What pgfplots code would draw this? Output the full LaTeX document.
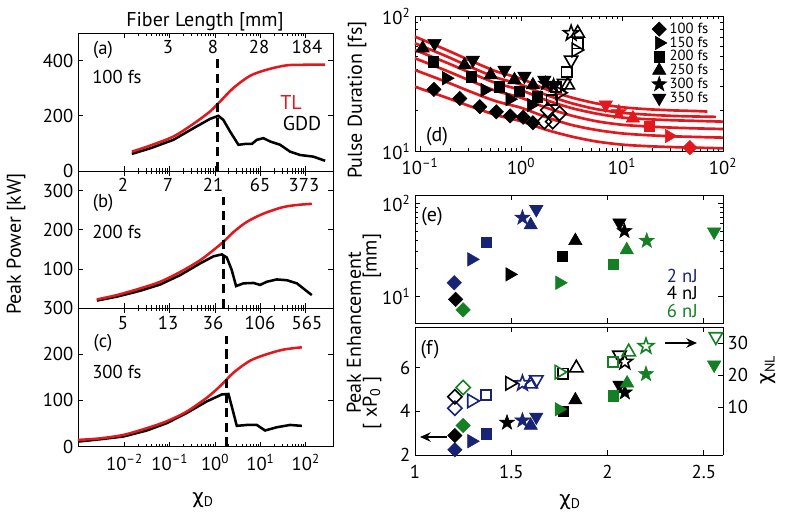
\documentclass[border=0pt]{standalone}
\usepackage{fontspec}
\setmainfont{PT Sans}
\newfontfamily\grk{DejaVu Sans}
\usepackage{pgfplots}
\pgfplotsset{compat=1.18}
\usetikzlibrary{arrows.meta}
\definecolor{mred}{RGB}{225,25,30}
\definecolor{navy}{RGB}{25,35,115}
\definecolor{mgreen}{RGB}{20,128,35}
\newcommand{\starpath}{%
  \pgfpathmoveto{\pgfpointpolar{90}{\pgfplotmarksize}}%
  \pgfpathlineto{\pgfpointpolar{126}{0.4\pgfplotmarksize}}%
  \pgfpathlineto{\pgfpointpolar{162}{\pgfplotmarksize}}%
  \pgfpathlineto{\pgfpointpolar{198}{0.4\pgfplotmarksize}}%
  \pgfpathlineto{\pgfpointpolar{234}{\pgfplotmarksize}}%
  \pgfpathlineto{\pgfpointpolar{270}{0.4\pgfplotmarksize}}%
  \pgfpathlineto{\pgfpointpolar{306}{\pgfplotmarksize}}%
  \pgfpathlineto{\pgfpointpolar{342}{0.4\pgfplotmarksize}}%
  \pgfpathlineto{\pgfpointpolar{18}{\pgfplotmarksize}}%
  \pgfpathlineto{\pgfpointpolar{54}{0.4\pgfplotmarksize}}%
  \pgfpathclose}
\pgfdeclareplotmark{fstar}{\starpath\pgfusepathqfillstroke}
\pgfdeclareplotmark{ostar}{\starpath\pgfusepathqstroke}
\newcommand{\tf}{\fontsize{14}{16}\selectfont}
\newcommand{\lf}{\fontsize{15}{17}\selectfont}
\newcommand{\chiD}{{\grk χ}\textsubscript{D}}
\newcommand{\sps}[1]{10\textsuperscript{#1}}

\pgfplotsset{
  every axis/.append style={scale only axis, anchor=south west, tick align=inside,
    major tick length=3.5pt, minor tick length=2pt,
    axis line style={line width=0.6pt},
    every tick/.append style={line width=0.5pt, black},
    /pgf/number format/assume math mode=true,
    tick label style={font=\tf}, clip=false},
  mD/.style={only marks, mark=square*, mark size=3.8pt, mark options={rotate=45}},
  mR/.style={only marks, mark=triangle*, mark size=5.8pt, mark options={rotate=-90}},
  mS/.style={only marks, mark=square*, mark size=3.8pt},
  mU/.style={only marks, mark=triangle*, mark size=5.8pt},
  mP/.style={only marks, mark=fstar, mark size=6pt},
  mV/.style={only marks, mark=triangle*, mark size=5.8pt, mark options={rotate=180}},
  oD/.style={only marks, mark=square, mark size=3.8pt, mark options={rotate=45}, line width=1.2pt},
  oR/.style={only marks, mark=triangle, mark size=5.8pt, mark options={rotate=-90}, line width=1.2pt},
  oS/.style={only marks, mark=square, mark size=3.8pt, line width=1.2pt},
  oU/.style={only marks, mark=triangle, mark size=5.8pt, line width=1.2pt},
  oP/.style={only marks, mark=ostar, mark size=6pt, line width=1.2pt},
  oV/.style={only marks, mark=triangle, mark size=5.8pt, mark options={rotate=180}, line width=1.2pt},
  tlcurve/.style={mred, line width=1.9pt, smooth},
  gddcurve/.style={black, line width=1.9pt},
  dshline/.style={black, line width=2.1pt, dash pattern=on 7pt off 4pt},
}

\begin{document}
\begin{tikzpicture}
\useasboundingbox (0,0) rectangle (588.75pt,-388.5pt);

% ---------------- (a)
\begin{axis}[xmode=log, xmin=0.00094, xmax=400, width=191.25pt, xtick={0.01,0.1,1,10,100},
  at={(58.5pt,-128.25pt)}, height=103.5pt,
  ymin=0, ymax=500, ytick={0,200,400}, xticklabels={}]
\addplot[gddcurve] coordinates {(0.0145,62) (0.0367,82) (0.120,113) (0.332,155) (0.776,189) (1.18,200) (1.52,185) (2.14,143) (3.27,95) (4.59,98) (6.46,98) (8.32,113) (11.6,119) (16.4,107) (27.2,95) (45.3,70) (75.2,58) (148,52) (268,37)};
\addplot[tlcurve] coordinates {(0.0145,70) (0.0367,92) (0.120,125) (0.332,171) (0.776,216) (1.29,252) (2.54,301) (5.93,345) (13.8,367) (38.3,383) (106,385) (268,385)};
\addplot[dshline] coordinates {(1.12,0) (1.12,410)};
\end{axis}

% ---------------- (b)
\begin{axis}[xmode=log, xmin=0.00094, xmax=400, width=191.25pt, xtick={0.01,0.1,1,10,100},
  at={(58.5pt,-231pt)}, height=102.75pt,
  ymin=0, ymax=350, ytick={100,200,300}, xticklabels={}]
\addplot[gddcurve] coordinates {(0.00245,19) (0.00676,29) (0.0221,44) (0.0611,60) (0.169,84) (0.467,114) (0.918,132) (1.41,137) (1.81,129) (2.33,97) (2.90,56) (4.22,63) (7.01,64) (9.84,59) (13.8,67) (23.0,73) (38.3,71) (63.7,63) (136,33)};
\addplot[tlcurve] coordinates {(0.00245,22) (0.00676,33) (0.0221,50) (0.0611,67) (0.169,92) (0.467,122) (0.918,148) (1.52,169) (2.54,194) (5.01,220) (11.6,241) (32.2,258) (75.2,264) (136,266)};
\addplot[dshline] coordinates {(1.52,0) (1.52,283)};
\end{axis}

% ---------------- (c)
\begin{axis}[xmode=log, xmin=0.00094, xmax=400, width=191.25pt, xtick={0.01,0.1,1,10,100},
  at={(58.5pt,-335pt)}, height=104pt,
  ymin=0, ymax=300, ytick={0,100,200,300},
  xticklabels={\sps{–2},\sps{–1},\sps{0},\sps{1},\sps{2}},
  xticklabel style={yshift=-2pt}]
\addplot[gddcurve] coordinates {(0.00094,11) (0.00289,16) (0.00946,22) (0.031,35) (0.0859,51) (0.237,73) (0.656,98) (1.41,113) (1.97,114) (2.33,87) (3.01,45) (5.01,47) (8.32,47) (12.7,35) (23.0,42) (45.3,47) (82,45)};
\addplot[tlcurve] coordinates {(0.00094,14.6) (0.00289,18) (0.00946,25.5) (0.031,40) (0.0859,55) (0.237,76) (0.656,106) (1.29,131) (2.54,160) (5.93,186) (13.8,200) (32.2,210) (82,215)};
\addplot[dshline] coordinates {(1.75,0) (1.75,240)};
\end{axis}

% ---------------- (d)
\begin{axis}[at={(311.25pt,-113.25pt)}, width=231pt, height=101.25pt,
  xmode=log, ymode=log, xmin=0.089, xmax=100, ymin=10, ymax=100,
  xtick={0.1,1,10,100}, xticklabels={\sps{–1},\sps{0},\sps{1},\sps{2}},
  ytick={10,100}, yticklabels={\sps{1},\sps{2}},
  xticklabel style={yshift=-2pt},
  legend style={at={(rel axis cs:0.975,0.99)}, anchor=north east, draw=none, fill=none,
    font=\fontsize{11}{11}\selectfont, row sep=-3pt},
  legend cell align=left]
\addplot[mred, line width=2pt, smooth, forget plot] coordinates {(0.089,29.9) (0.178,25.0) (0.316,21.4) (0.562,18.5) (1,16.6) (1.78,14.35) (3.16,12.8) (5.62,11.75) (10,11.15) (17.8,10.86) (31.6,10.69) (56.2,10.58) (100,10.47)};
\addplot[mred, line width=2pt, smooth, forget plot] coordinates {(0.089,39.8) (0.178,32.7) (0.316,27.5) (0.562,23.4) (1,20.9) (1.78,17.8) (3.16,15.6) (5.62,14.3) (10,13.5) (17.8,13.1) (31.6,12.85) (56.2,12.7) (100,12.56)};
\addplot[mred, line width=2pt, smooth, forget plot] coordinates {(0.089,48.6) (0.178,39.6) (0.316,33.1) (0.562,27.9) (1,24.8) (1.78,20.9) (3.16,18.3) (5.62,16.6) (10,15.65) (17.8,15.2) (31.6,14.9) (56.2,14.7) (100,14.55)};
\addplot[mred, line width=2pt, smooth, forget plot] coordinates {(0.089,56.0) (0.178,45.5) (0.316,37.9) (0.562,31.9) (1,28.2) (1.78,23.8) (3.16,20.8) (5.62,18.9) (10,17.7) (17.8,17.2) (31.6,16.9) (56.2,16.7) (100,16.5)};
\addplot[mred, line width=2pt, smooth, forget plot] coordinates {(0.089,62.8) (0.178,50.7) (0.316,41.9) (0.562,35.1) (1,31.0) (1.78,26.0) (3.16,22.6) (5.62,20.4) (10,19.2) (17.8,18.6) (31.6,18.2) (56.2,18.0) (85,17.9)};
\addplot[mred, line width=2pt, smooth, forget plot] coordinates {(0.089,70.3) (0.178,56.5) (0.316,46.7) (0.562,39.0) (1,34.3) (1.78,28.6) (3.16,24.9) (5.62,22.5) (10,21.1) (17.8,20.4) (31.6,20.0) (56.2,19.75) (70,19.6)};
% red markers on fits
\addplot[mD, mred, forget plot] coordinates {(47,10.6)};
\addplot[mR, mred, forget plot] coordinates {(29.3,12.9)};
\addplot[mS, mred, forget plot] coordinates {(18.5,15.2)};
\addplot[mU, mred, forget plot] coordinates {(12.8,17.5)};
\addplot[mP, mred, forget plot] coordinates {(9.3,19.4)};
\addplot[mV, mred, forget plot] coordinates {(6.9,22)};
% open markers
\addplot[oD, black, forget plot] coordinates {(1.70,16.5) (2.06,16.5) (2.4,19) (1.84,20.1)};
\addplot[oS, black, forget plot] coordinates {(2.01,23.9) (2.22,29.9) (2.83,38.6) (3.64,62.8)};
\addplot[oV, black, forget plot] coordinates {(2.67,31.7) (3.13,47.2)};
\addplot[oR, black, forget plot] coordinates {(3.5,56) (2.4,27)};
\addplot[oU, black, forget plot] coordinates {(2.9,30.8) (3.64,74.5)};
\addplot[oP, black, forget plot] coordinates {(3.13,74.5)};
% filled markers
\addplot[mD, black] coordinates {(0.137,28.6) (0.247,24.5) (0.39,21.3) (0.569,19.5) (0.78,18.2) (1.05,17.8) (1.31,16.2)};
\addlegendentry{100 fs}
\addplot[mR, black] coordinates {(0.182,34.6) (0.437,28.3) (0.773,24.2) (1.26,21.9)};
\addlegendentry{150 fs}
\addplot[mS, black] coordinates {(0.134,45.8) (0.32,35.5) (0.61,29.9) (0.96,27.5) (1.46,25.2)};
\addlegendentry{200 fs}
\addplot[mU, black] coordinates {(0.106,57.7) (0.275,43.3) (0.50,36.6) (0.86,33.6) (1.31,30.8)};
\addlegendentry{250 fs}
\addplot[mP, black] coordinates {(1.75,31.5) (2.1,30.5)};
\addlegendentry{300 fs}
\addplot[mV, black] coordinates {(0.139,62.8) (0.333,47.2) (0.684,39.8) (1.08,35.9) (1.70,33.6)};
\addlegendentry{350 fs}
\end{axis}

% ---------------- (e)
\begin{axis}[at={(311.25pt,-242.25pt)}, width=231pt, height=96pt,
  ymode=log, xmin=1, xmax=2.6, ymin=5.13, ymax=122,
  xtick={1,1.5,2,2.5}, xticklabels={},
  ytick={10,100}, yticklabels={\sps{1},\sps{2}}]
\addplot[mD, navy] coordinates {(1.204,13.9)};
\addplot[mR, navy] coordinates {(1.294,24.8)};
\addplot[mS, navy] coordinates {(1.368,37.8)};
\addplot[mP, navy] coordinates {(1.558,69.5)};
\addplot[mU, navy] coordinates {(1.601,57.9)};
\addplot[mV, navy] coordinates {(1.630,85.5)};
\addplot[mD, black] coordinates {(1.211,9.2)};
\addplot[mR, black] coordinates {(1.492,17.1)};
\addplot[mS, black] coordinates {(1.763,26.9)};
\addplot[mU, black] coordinates {(1.833,39.3)};
\addplot[mV, black] coordinates {(2.062,61.4)};
\addplot[mP, black] coordinates {(2.088,50)};
\addplot[mD, mgreen] coordinates {(1.25,7.1)};
\addplot[mR, mgreen] coordinates {(1.751,13.9)};
\addplot[mS, mgreen] coordinates {(2.031,21.9)};
\addplot[mU, mgreen] coordinates {(2.10,31.3)};
\addplot[mP, mgreen] coordinates {(2.204,39.3)};
\addplot[mV, mgreen] coordinates {(2.554,49.1)};
\end{axis}

% ---------------- (f) left axis: filled markers
\begin{axis}[at={(311.25pt,-341.25pt)}, width=231pt, height=96pt,
  xmin=1, xmax=2.6, ymin=2, ymax=7.85, axis y line*=left,
  xtick={1,1.5,2,2.5}, ytick={2,4,6},
  xticklabel style={yshift=-4pt}]
\addplot[mD, navy] coordinates {(1.207,2.24)};
\addplot[mR, navy] coordinates {(1.294,2.63)};
\addplot[mS, navy] coordinates {(1.368,2.97)};
\addplot[mP, navy] coordinates {(1.558,3.58)};
\addplot[mU, navy] coordinates {(1.601,3.35)};
\addplot[mV, navy] coordinates {(1.63,3.74)};
\addplot[mD, black] coordinates {(1.207,2.89)};
\addplot[mP, black] coordinates {(1.478,3.48)};
\addplot[mS, black] coordinates {(1.768,4.0)};
\addplot[mU, black] coordinates {(1.833,4.51)};
\addplot[mV, black] coordinates {(2.062,5.2)};
\addplot[mP, black] coordinates {(2.09,4.86)};
\addplot[mD, mgreen] coordinates {(1.25,3.35)};
\addplot[mR, mgreen] coordinates {(1.748,4.09)};
\addplot[mS, mgreen] coordinates {(2.028,4.71)};
\addplot[mU, mgreen] coordinates {(2.102,5.28)};
\addplot[mP, mgreen] coordinates {(2.2,5.7)};
\addplot[mV, mgreen] coordinates {(2.554,6.12)};
\end{axis}

% ---------------- (f) right axis: open markers
\begin{axis}[at={(311.25pt,-341.25pt)}, width=231pt, height=96pt,
  xmin=1, xmax=2.6, ymin=-5, ymax=35, axis y line*=right, axis x line=none,
  ytick={10,20,30}]
\addplot[oD, navy] coordinates {(1.207,9.6)};
\addplot[oR, navy] coordinates {(1.294,11.9)};
\addplot[oS, navy] coordinates {(1.368,13.8)};
\addplot[oP, navy] coordinates {(1.558,17.4)};
\addplot[oU, navy] coordinates {(1.601,17.2)};
\addplot[oV, navy] coordinates {(1.63,18.5)};
\addplot[oD, black] coordinates {(1.207,13.2)};
\addplot[oR, black] coordinates {(1.492,17.4)};
\addplot[oS, black] coordinates {(1.768,20.4)};
\addplot[oU, black] coordinates {(1.838,22.2)};
\addplot[oV, black] coordinates {(2.062,26.2)};
\addplot[oP, black] coordinates {(2.09,24.1)};
\addplot[oD, mgreen] coordinates {(1.25,16.1)};
\addplot[oR, mgreen] coordinates {(1.748,20.9)};
\addplot[oS, mgreen] coordinates {(2.028,24.1)};
\addplot[oU, mgreen] coordinates {(2.11,27.2)};
\addplot[oP, mgreen] coordinates {(2.2,29.0)};
\addplot[oV, mgreen] coordinates {(2.563,32.0)};
\end{axis}

% ---------------- text annotations (pixel coordinates)
\begin{scope}[x=0.75pt, y=-0.75pt]
\node[font=\lf] at (205,21.7) {Fiber Length [mm]};
\foreach \xx/\tt in {168/3, 213/8, 259/28, 307/184}{\node[font=\tf] at (\xx,46.7) {\tt};}
\foreach \xx/\tt in {123/2, 168/7, 213/21, 260/65, 304/373}{\node[font=\tf] at (\xx,185) {\tt};}
\foreach \xx/\tt in {123/5, 168/13, 213/36, 260/106, 307/565}{\node[font=\tf] at (\xx,323.3) {\tt};}
\node[font=\tf] at (103,50) {(a)};
\node[font=\tf, anchor=west, inner sep=0pt] at (92,77) {100 fs};
\node[font=\tf] at (103,203) {(b)};
\node[font=\tf, anchor=west, inner sep=0pt] at (92,232) {200 fs};
\node[font=\tf] at (103,343) {(c)};
\node[font=\tf, anchor=west, inner sep=0pt] at (92,372) {300 fs};
\node[font=\lf, text=mred] at (291,102) {TL};
\node[font=\lf] at (302,123) {GDD};
\node[font=\lf, rotate=90] at (16,244) {Peak Power [kW]};
\node[font=\lf] at (203,500) {\chiD};
\node[font=\lf] at (570,502) {\chiD};
\node[font=\lf, rotate=90] at (357,100) {Pulse Duration [fs]};
\node[font=\lf, rotate=90] at (354,333) {Peak Enhancement};
\node[font=\lf, rotate=90] at (372,256) {[mm]};
\node[font=\lf, rotate=90] at (372,403) {[ xP\textsubscript{0} ]};
\node[font=\lf, rotate=90] at (768,370) {{\grk χ}\textsubscript{NL}};
\node[font=\lf] at (437,137) {(d)};
\node[font=\lf] at (432,217) {(e)};
\node[font=\lf] at (430,350) {(f)};
\node[font=\tf, text=navy, anchor=east, inner sep=0pt] at (698,276) {2 nJ};
\node[font=\tf, text=black, anchor=east, inner sep=0pt] at (698,293.3) {4 nJ};
\node[font=\tf, text=mgreen, anchor=east, inner sep=0pt] at (698,310.7) {6 nJ};
\draw[line width=1.3pt, -{Stealth[length=8pt,width=7pt]}] (447,437) -- (420,437);
\draw[line width=1.3pt, -{Stealth[length=8pt,width=7pt]}] (665,343) -- (697,343);
\end{scope}
\end{tikzpicture}
\end{document}
